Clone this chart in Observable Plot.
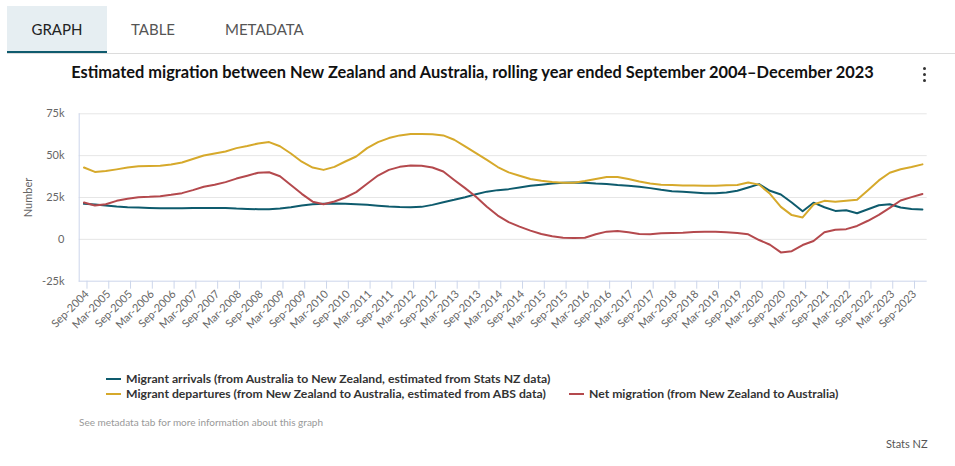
<!DOCTYPE html>
<html>
<head>
<meta charset="utf-8">
<script src="https://cdn.jsdelivr.net/npm/d3@7"></script>
<script src="https://cdn.jsdelivr.net/npm/@observablehq/plot@0.6"></script>
<style>
  html, body { margin: 0; padding: 0; background: #fff; }
  body { width: 955px; height: 466px; position: relative; overflow: hidden; font-family: Lato, "Open Sans", sans-serif; }
  .abs { position: absolute; white-space: nowrap; }
  .tab { position: absolute; top: 6px; height: 45px; line-height: 46px; font-size: 15px; color: #555; }
  #tab-graph { left: 7px; width: 100px; text-align: center; background: #e6eef2; color: #222; border-bottom: 2.5px solid #0f5b6e; box-sizing: border-box; height: 47px; }
  #tabline { left: 7px; top: 53px; width: 948px; height: 1px; background: #dcdcdc; }
  #title { left: 0; width: 945px; text-align: center; top: 62px; line-height: 20px; font-size: 16.4px; font-weight: bold; color: #111; }
  .dot { position: absolute; left: 922.5px; width: 3.5px; height: 3.5px; border-radius: 50%; background: #333; }
  #chart { position: absolute; left: 0; top: 95px; }
  .leg { position: absolute; font-size: 12.2px; font-weight: bold; color: #333; line-height: 14px; white-space: nowrap; }
  .legline { position: absolute; width: 15px; height: 2.5px; }
  #note { left: 79px; top: 415px; font-size: 10px; line-height: 14px; color: #999; }
  #src { left: 886px; top: 437px; font-size: 11px; line-height: 14px; color: #555; }
</style>
</head>
<body>
<div class="tab" id="tab-graph">GRAPH</div>
<div class="tab" style="left:131px">TABLE</div>
<div class="tab" style="left:225px">METADATA</div>
<div class="abs" id="tabline"></div>
<div class="abs" id="title">Estimated migration between New Zealand and Australia, rolling year ended September 2004–December 2023</div>
<div class="dot" style="top:66.5px"></div>
<div class="dot" style="top:72.5px"></div>
<div class="dot" style="top:78.5px"></div>
<div id="chart"></div>
<div id="legend"></div>
<div class="abs" id="note">See metadata tab for more information about this graph</div>
<div class="abs" id="src">Stats NZ</div>
<script>
const quarters = [
  "Sep-2004","Dec-2004",
  "Mar-2005","Jun-2005","Sep-2005","Dec-2005",
  "Mar-2006","Jun-2006","Sep-2006","Dec-2006",
  "Mar-2007","Jun-2007","Sep-2007","Dec-2007",
  "Mar-2008","Jun-2008","Sep-2008","Dec-2008",
  "Mar-2009","Jun-2009","Sep-2009","Dec-2009",
  "Mar-2010","Jun-2010","Sep-2010","Dec-2010",
  "Mar-2011","Jun-2011","Sep-2011","Dec-2011",
  "Mar-2012","Jun-2012","Sep-2012","Dec-2012",
  "Mar-2013","Jun-2013","Sep-2013","Dec-2013",
  "Mar-2014","Jun-2014","Sep-2014","Dec-2014",
  "Mar-2015","Jun-2015","Sep-2015","Dec-2015",
  "Mar-2016","Jun-2016","Sep-2016","Dec-2016",
  "Mar-2017","Jun-2017","Sep-2017","Dec-2017",
  "Mar-2018","Jun-2018","Sep-2018","Dec-2018",
  "Mar-2019","Jun-2019","Sep-2019","Dec-2019",
  "Mar-2020","Jun-2020","Sep-2020","Dec-2020",
  "Mar-2021","Jun-2021","Sep-2021","Dec-2021",
  "Mar-2022","Jun-2022","Sep-2022","Dec-2022",
  "Mar-2023","Jun-2023","Sep-2023","Dec-2023"
];

const tickLabels = [
  "Sep-2004","Mar-2005","Sep-2005","Mar-2006","Sep-2006","Mar-2007","Sep-2007","Mar-2008",
  "Sep-2008","Mar-2009","Sep-2009","Mar-2010","Sep-2010","Mar-2011","Sep-2011","Mar-2012",
  "Sep-2012","Mar-2013","Sep-2013","Mar-2014","Sep-2014","Mar-2015","Sep-2015","Mar-2016",
  "Sep-2016","Mar-2017","Sep-2017","Mar-2018","Sep-2018","Mar-2019","Sep-2019","Mar-2020",
  "Sep-2020","Mar-2021","Sep-2021","Mar-2022","Sep-2022","Mar-2023","Sep-2023"
];

const yTicks = [-25000, 0, 25000, 50000, 75000];

// values in thousands
const arrivals = [
  21.2, 20.8,
  20.2, 19.6, 19.2, 19.0,
  18.8, 18.6, 18.6, 18.6,
  18.8, 18.8, 18.8, 18.8,
  18.4, 18.2, 18.0, 18.0,
  18.4, 19.2, 20.2, 21.0,
  21.3, 21.4, 21.3, 21.0,
  20.6, 20.1, 19.6, 19.3,
  19.2, 19.4, 20.6, 22.2,
  23.6, 25.2, 27.0, 28.5,
  29.4, 30.0, 31.0, 32.0,
  32.6, 33.3, 33.8, 34.0,
  33.8, 33.3, 33.0, 32.4,
  32.0, 31.4, 30.6, 29.6,
  28.8, 28.4, 28.0, 27.6,
  27.5, 28.0, 29.0, 31.0,
  33.0, 29.0, 26.8, 22.0,
  16.8, 21.9, 19.2, 17.0,
  17.4, 15.6, 18.0, 20.4,
  21.0, 19.0, 18.2, 17.8
];

const departures = [
  42.9, 40.3,
  40.8, 41.8, 42.9, 43.6,
  43.8, 43.9, 44.7, 45.9,
  48.0, 50.1, 51.3, 52.5,
  54.5, 55.8, 57.3, 58.1,
  55.6, 51.3, 46.4, 42.9,
  41.5, 43.3, 46.5, 49.5,
  54.5, 58.1, 60.5, 62.1,
  62.9, 63.0, 62.8, 62.1,
  59.5, 55.5, 51.5, 47.5,
  43.2, 40.0, 38.0, 36.1,
  35.0, 34.2, 33.8, 33.8,
  34.8, 36.1, 37.3, 37.3,
  36.0, 34.5, 33.3, 32.6,
  32.5, 32.2, 32.2, 32.0,
  32.0, 32.3, 32.5, 33.9,
  32.7, 27.2, 19.4, 14.5,
  13.1, 20.8, 23.0, 22.4,
  23.1, 23.6, 29.3, 35.2,
  39.8, 41.9, 43.2, 44.8
];

const net = [
  22.0, 20.2,
  21.0, 23.0, 24.2, 25.2,
  25.4, 25.8, 26.6, 27.6,
  29.4, 31.4, 32.6, 34.2,
  36.3, 38.0, 39.8, 40.1,
  37.7, 32.5, 27.2, 22.5,
  21.0, 22.6, 25.0, 28.2,
  33.2, 38.1, 41.5, 43.3,
  44.1, 44.0, 42.9, 40.5,
  35.5, 30.6, 25.5, 19.5,
  14.2, 10.3, 7.6, 5.2,
  3.2, 1.8, 1.0, 0.8,
  1.0, 3.0, 4.6, 5.0,
  4.2, 3.2, 3.0, 3.6,
  3.8, 4.0, 4.4, 4.6,
  4.6, 4.2, 3.8, 3.0,
  -0.4, -3.2, -7.8, -7.1,
  -3.4, -1.0, 4.2, 5.7,
  6.1, 8.0, 11.1, 14.6,
  18.8, 23.2, 25.2, 27.1
];

const seriesNames = [
  "Migrant arrivals (from Australia to New Zealand, estimated from Stats NZ data)",
  "Migrant departures (from New Zealand to Australia, estimated from ABS data)",
  "Net migration (from New Zealand to Australia)"
];
const seriesColors = ["#0e5b6d", "#d6a92b", "#b4494d"];
const seriesValues = [arrivals, departures, net];

const rows = seriesNames.flatMap((s, k) =>
  quarters.map((q, i) => ({quarter: q, value: seriesValues[k][i] * 1000, series: s}))
);

const chart = Plot.plot({
  width: 955,
  height: 265,
  marginTop: 18.3,
  marginBottom: 79.3,
  marginLeft: 78.7,
  marginRight: 28.3,
  style: {fontFamily: "Lato, 'Open Sans', sans-serif", fontSize: "11px", color: "#666", background: "transparent", overflow: "visible"},
  x: {type: "point", domain: quarters, padding: 0.44},
  y: {domain: [-25000, 75000]},
  color: {domain: seriesNames, range: seriesColors},
  marks: [
    Plot.gridY([0, 25000, 50000, 75000], {stroke: "#e6e6e6", strokeOpacity: 1}),
    Plot.frame({anchor: "left", stroke: "#ccd6eb", strokeOpacity: 1}),
    Plot.ruleY([-25000], {stroke: "#ccd6eb", strokeOpacity: 1}),
    Plot.axisY({
      ticks: yTicks, tickSize: 0, tickPadding: 14.7,
      tickFormat: d => d === 0 ? "0" : (d / 1000) + "k",
      label: "Number", labelAnchor: "center", labelArrow: "none", labelOffset: 55,
      fill: "#666", fontSize: 11
    }),
    Plot.axisX({
      ticks: tickLabels, tickSize: 8, stroke: "#ccd6eb", strokeOpacity: 1,
      tickRotate: -45, tickPadding: 3, dx: 3, label: null, fill: "#666", fontSize: 11
    }),
    Plot.line(rows, {x: "quarter", y: "value", z: "series", stroke: "series", strokeWidth: 2, curve: "linear"})
  ]
});
document.getElementById("chart").appendChild(chart);

// legend
const legend = document.getElementById("legend");
const legendPos = [
  {lx: 106, tx: 126, cy: 379},
  {lx: 106, tx: 126, cy: 394},
  {lx: 569, tx: 589, cy: 394}
];
seriesNames.forEach((name, k) => {
  const p = legendPos[k];
  const line = document.createElement("div");
  line.className = "legline";
  line.style.left = p.lx + "px";
  line.style.top = (p.cy - 1.25) + "px";
  line.style.background = seriesColors[k];
  legend.appendChild(line);
  const t = document.createElement("div");
  t.className = "leg";
  t.style.left = p.tx + "px";
  t.style.top = (p.cy - 7) + "px";
  t.textContent = name;
  legend.appendChild(t);
});
</script>
</body>
</html>
